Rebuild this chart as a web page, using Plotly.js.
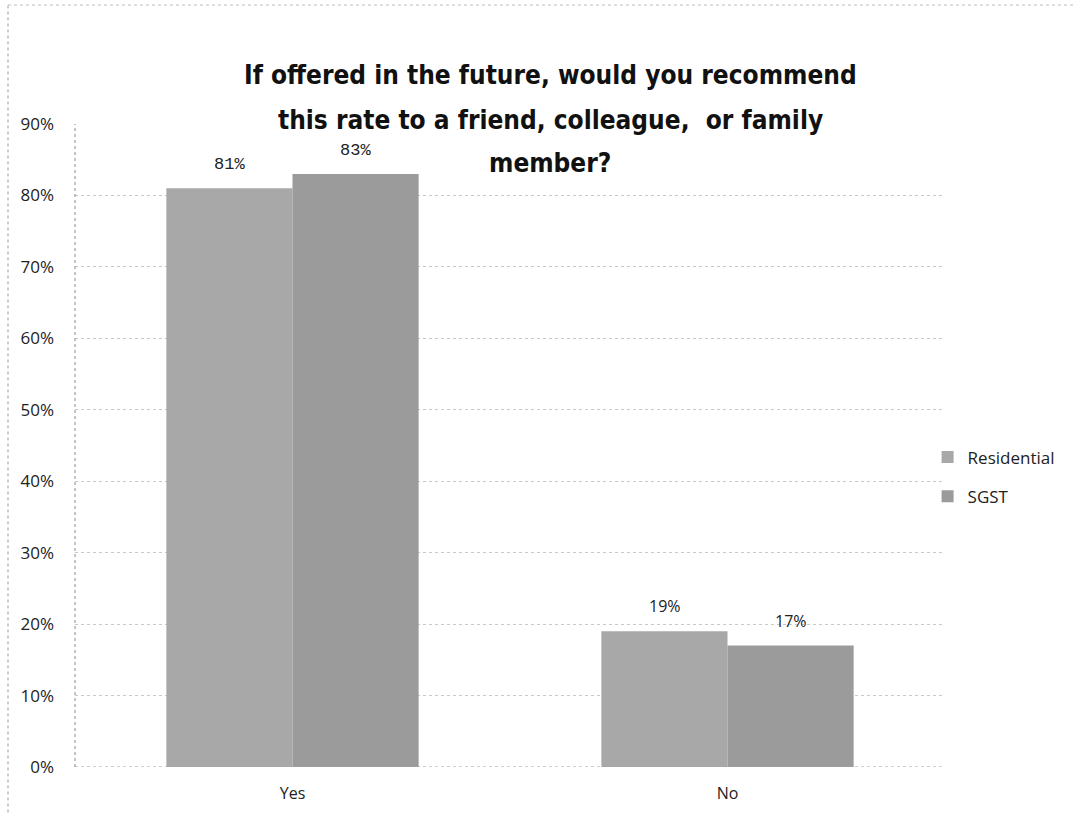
<!DOCTYPE html>
<html>
<head>
<meta charset="utf-8">
<script src="https://cdn.plot.ly/plotly-3.0.1.min.js"></script>
<style>html,body{margin:0;padding:0;background:#fff;}#chart{width:1084px;height:813px;}</style>
</head>
<body>
<div id="chart"></div>
<script>
const categories = ["Yes", "No"];
const seriesNames = ["Residential", "SGST"];
const residential = [0.81, 0.19];
const sgst = [0.83, 0.17];
const residentialLabels = ["81%", "19%"];
const sgstLabels = ["83%", "17%"];
const yTickVals = [0, 0.1, 0.2, 0.3, 0.4, 0.5, 0.6, 0.7, 0.8, 0.9];
const titleLines = [
  "If offered in the future, would you recommend",
  "this rate to a friend, colleague,  or family",
  "member?"
];

const traces = [
  {type: "bar", name: seriesNames[0], x: categories, y: residential, legendgroup: "a",
   marker: {color: "#a8a8a8", line: {width: 0}}, hoverinfo: "none"},
  {type: "bar", name: seriesNames[1], x: categories, y: sgst, legendgroup: "b",
   marker: {color: "#9b9b9b", line: {width: 0}}, hoverinfo: "none"}
];

const annotations = [];
categories.forEach((c, i) => {
  const fam = i === 0 ? "Liberation Mono, DejaVu Sans Mono, monospace" : "Open Sans, sans-serif";
  const sz = i === 0 ? 17 : 16;
  annotations.push({x: c, y: residential[i], xref: "x", yref: "y", text: residentialLabels[i],
    showarrow: false, yanchor: "bottom", xshift: -63, yshift: 12,
    font: {family: fam, size: sz, color: "#222"}});
  annotations.push({x: c, y: sgst[i], xref: "x", yref: "y", text: sgstLabels[i],
    showarrow: false, yanchor: "bottom", xshift: 63, yshift: 12,
    font: {family: fam, size: sz, color: "#222"}});
});

// title lines placed at fixed pixel rows of the original (container coordinates)
const titleRows = [75, 120, 163];
titleLines.forEach((t, i) => {
  annotations.push({text: t, xref: "paper", yref: "paper", x: (550 - 75) / 870, y: (767 - titleRows[i]) / 643,
    xanchor: "center", yanchor: "middle", showarrow: false,
    font: {family: "Liberation Sans Narrow, DejaVu Sans Condensed, Open Sans, sans-serif", size: 26, color: "#111", weight: "bold"}});
});

const layout = {
  width: 1084, height: 813,
  margin: {l: 75, r: 139, t: 124, b: 46},
  paper_bgcolor: "#ffffff", plot_bgcolor: "#ffffff",
  barmode: "group", bargap: 0.42, bargroupgap: 0,
  showlegend: true,
  legend: {x: 0.98, xanchor: "left", y: 0.451, yanchor: "middle", bgcolor: "rgba(0,0,0,0)",
    font: {family: "Open Sans, sans-serif", size: 17, color: "#222"}, itemwidth: 30, tracegroupgap: 14},
  xaxis: {type: "category", showgrid: false, showline: false, ticks: "", zeroline: false, ticklabelstandoff: 15,
    tickfont: {family: "Open Sans, sans-serif", size: 16, color: "#222"}},
  yaxis: {range: [0, 0.9], tickvals: yTickVals, tickformat: ".0%", showgrid: true,
    gridcolor: "#c8c8c8", griddash: "dot", gridwidth: 1, zeroline: false,
    showline: false, ticks: "", ticklabelstandoff: 20,
    tickfont: {family: "Open Sans, sans-serif", size: 17, color: "#222"}},
  annotations: annotations,
  shapes: [
    {type: "line", xref: "paper", yref: "paper", x0: 0, x1: 0, y0: 0, y1: 1,
     line: {color: "#8a8a8a", width: 1, dash: "dot"}},
    {type: "line", xref: "paper", yref: "y", x0: 0, x1: 1, y0: 0, y1: 0,
     line: {color: "#a0a0a0", width: 1, dash: "dot"}},
    {type: "line", xref: "paper", yref: "paper", x0: -0.077, x1: -0.077, y0: -0.08, y1: 1.185,
     line: {color: "#9a9a9a", width: 1, dash: "dot"}},
    {type: "line", xref: "paper", yref: "paper", x0: -0.077, x1: 1.15, y0: 1.185, y1: 1.185,
     line: {color: "#bbbbbb", width: 1, dash: "dot"}}
  ]
};

Plotly.newPlot("chart", traces, layout, {displayModeBar: false, staticPlot: true});
</script>
</body>
</html>
